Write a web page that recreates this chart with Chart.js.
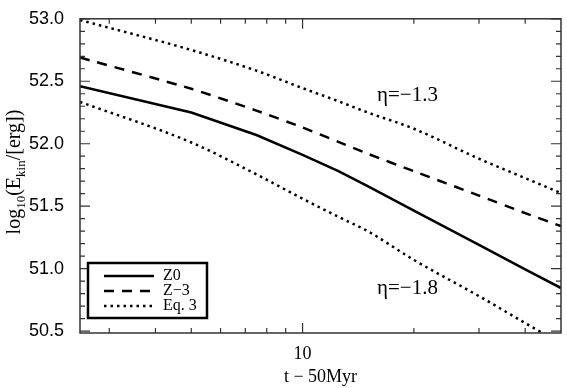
<!DOCTYPE html>
<html>
<head>
<meta charset="utf-8">
<script src="https://cdn.jsdelivr.net/npm/chart.js@4.4.1/dist/chart.umd.min.js"></script>
<style>
  html, body { margin: 0; padding: 0; background: #fff; }
  #wrap { width: 567px; height: 388px; }
</style>
</head>
<body>
<div id="wrap"><canvas id="lineChart" width="567" height="388"></canvas></div>
<script>
// time since 50 Myr
var times = [2.5, 5, 7.5, 10, 12.5, 15, 20, 30, 40, 50];
// log10(E_kin/erg)
var z0 = [52.46, 52.25, 52.07, 51.91, 51.78, 51.66, 51.465, 51.19, 50.995, 50.845];
var zm3 = [52.69, 52.44, 52.265, 52.13, 52.015, 51.92, 51.78, 51.585, 51.445, 51.34];
var eqHigh = [52.99, 52.75, 52.585, 52.445, 52.34, 52.25, 52.12, 51.88, 51.725, 51.605];
var eqLow = [52.335, 52.01, 51.755, 51.56, 51.415, 51.30, 51.07, 50.78, 50.565, 50.40];
var legendNames = ['Z0', 'Z\u22123', 'Eq. 3'];
var yMajor = [50.5, 51.0, 51.5, 52.0, 52.5, 53.0];
var xMajor = [10];
var xMinor = [3, 4, 5, 6, 7, 8, 9, 20, 30, 40];
var etaNotes = [
    {text: '\u03b7=\u22121.3', x: 15.9, y: 52.39},
    {text: '\u03b7=\u22121.8', x: 15.9, y: 50.84}
];

var serif = '"Liberation Serif", "DejaVu Serif", serif';

function pts(vals) {
    return vals.map(function (v, i) { return {x: times[i], y: v}; });
}

// axis frame + inward ticks, legend box, annotations
var decor = {
    id: 'decor',
    afterDraw: function (chart) {
        var ctx = chart.ctx, a = chart.chartArea;
        var xs = chart.scales.x, ys = chart.scales.y;
        ctx.save();
        ctx.strokeStyle = '#333';
        ctx.lineWidth = 1.5;
        ctx.strokeRect(a.left, a.top, a.right - a.left, a.bottom - a.top);
        ctx.lineWidth = 1.2;
        ctx.beginPath();
        var v, p, len;
        for (v = 505; v <= 530; v++) {
            p = ys.getPixelForValue(v / 10);
            len = (v % 5 === 0) ? 10 : 5;
            ctx.moveTo(a.left, p); ctx.lineTo(a.left + len, p);
            ctx.moveTo(a.right, p); ctx.lineTo(a.right - len, p);
        }
        xMajor.concat(xMinor).forEach(function (t) {
            p = xs.getPixelForValue(t);
            len = xMajor.indexOf(t) >= 0 ? 10 : 5;
            ctx.moveTo(p, a.bottom); ctx.lineTo(p, a.bottom - len);
            ctx.moveTo(p, a.top); ctx.lineTo(p, a.top + len);
        });
        ctx.stroke();

        // y title with subscripts
        ctx.save();
        ctx.translate(20, 172);
        ctx.rotate(-Math.PI / 2);
        ctx.fillStyle = '#000';
        ctx.textBaseline = 'alphabetic';
        var parts = [
            ['log', 20, 0], ['10', 13, 5], ['(E', 20, 0], ['kin', 13, 5], ['/[erg])', 20, 0]
        ];
        var total = 0;
        parts.forEach(function (s) { ctx.font = s[1] + 'px ' + serif; total += ctx.measureText(s[0]).width; });
        var cx = -total / 2;
        parts.forEach(function (s) {
            ctx.font = s[1] + 'px ' + serif;
            ctx.fillText(s[0], cx, s[2]);
            cx += ctx.measureText(s[0]).width;
        });
        ctx.restore();

        // legend
        ctx.fillStyle = '#fff';
        ctx.fillRect(88, 263, 119, 55);
        ctx.strokeStyle = '#000';
        ctx.lineWidth = 2.5;
        ctx.strokeRect(88, 263, 119, 55);
        ctx.font = '16px ' + serif;
        ctx.textBaseline = 'middle';
        ctx.fillStyle = '#000';
        for (var i = 0; i < 3; i++) {
            var ds = chart.data.datasets[i];
            var yy = 276 + i * 15;
            ctx.beginPath();
            ctx.lineWidth = ds.borderWidth;
            ctx.setLineDash(ds.borderDash || []);
            ctx.moveTo(104, yy); ctx.lineTo(154, yy);
            ctx.stroke();
            ctx.setLineDash([]);
            ctx.fillText(legendNames[i], 163, yy);
        }

        // eta notes
        ctx.font = '21px ' + serif;
        ctx.textBaseline = 'middle';
        etaNotes.forEach(function (n) {
            ctx.fillText(n.text, xs.getPixelForValue(n.x), ys.getPixelForValue(n.y));
        });
        ctx.restore();
    }
};

var lineCanvas = document.getElementById('lineChart').getContext('2d');
var lineChart = new Chart(lineCanvas, {
    type: 'line',
    data: {
        datasets: [
            {label: 'Z0', data: pts(z0), borderColor: '#000', borderWidth: 2.5, pointRadius: 0, tension: 0},
            {label: 'Z-3', data: pts(zm3), borderColor: '#000', borderWidth: 2.5, borderDash: [10, 8], pointRadius: 0, tension: 0.2},
            {label: 'Eq. 3', data: pts(eqHigh), borderColor: '#000', borderWidth: 2.5, borderDash: [2.5, 4], pointRadius: 0, cubicInterpolationMode: 'monotone'},
            {label: 'Eq. 3 low', data: pts(eqLow), borderColor: '#000', borderWidth: 2.5, borderDash: [2.5, 4], pointRadius: 0, cubicInterpolationMode: 'monotone'}
        ]
    },
    options: {
        responsive: false,
        animation: false,
        layout: {padding: {top: 7, right: 6, left: 0, bottom: 0}},
        plugins: {legend: {display: false}, tooltip: {enabled: false}},
        scales: {
            x: {
                type: 'logarithmic',
                min: 2.5,
                max: 50,
                grid: {display: false},
                border: {display: false},
                afterBuildTicks: function (s) { s.ticks = xMajor.map(function (v) { return {value: v}; }); },
                afterFit: function (s) { s.height = 55; },
                ticks: {
                    autoSkip: false, maxRotation: 0, padding: 2, color: '#000',
                    font: {family: serif, size: 18},
                    callback: function (v) { return String(v); }
                },
                title: {display: true, text: 't \u2212 50Myr', color: '#000', font: {family: serif, size: 18}, padding: {top: 0, bottom: 0}}
            },
            y: {
                min: 50.485,
                max: 53.0,
                grid: {display: false},
                border: {display: false},
                afterBuildTicks: function (s) { s.ticks = yMajor.map(function (v) { return {value: v}; }); },
                afterFit: function (s) { s.width = 80; },
                ticks: {
                    padding: 8, color: '#000',
                    font: {family: '"Liberation Sans", Arial, sans-serif', size: 18},
                    callback: function (v) { return Number(v).toFixed(1); }
                }
            }
        }
    },
    plugins: [decor]
});
</script>
</body>
</html>
